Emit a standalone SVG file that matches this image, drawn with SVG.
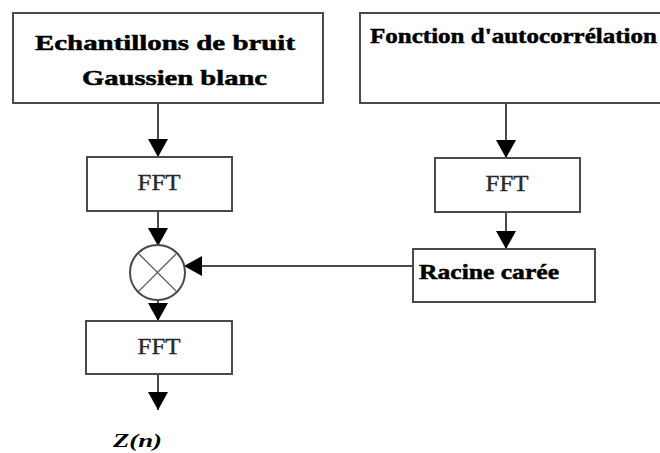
<svg xmlns="http://www.w3.org/2000/svg" width="660" height="453" viewBox="0 0 660 453">
<style>
.box{fill:#fff;stroke:#4a4a4a;stroke-width:2}
.ln{fill:none;stroke:#4a4a4a;stroke-width:2}
.bt{font-family:"Liberation Serif",serif;font-weight:bold;font-size:22px;fill:#000;stroke:#000;stroke-width:0.5}
.ft{font-family:"Liberation Serif",serif;font-size:23px;fill:#2a2a2a;stroke:#2a2a2a;stroke-width:0.4;text-anchor:middle}
</style>
<defs>
<marker id="ah" markerUnits="userSpaceOnUse" markerWidth="20" markerHeight="20" refX="18" refY="10" orient="auto" viewBox="0 0 20 20">
<path d="M0,0 L18,10 L0,20 z" fill="#000"/>
</marker>
</defs>
<rect width="660" height="453" fill="#fff"/>
<g id="connectors">
<line class="ln" x1="158" y1="103" x2="158" y2="157" marker-end="url(#ah)"/>
<line class="ln" x1="158" y1="211" x2="158" y2="246" marker-end="url(#ah)"/>
<line class="ln" x1="158" y1="300" x2="158" y2="321" marker-end="url(#ah)"/>
<line class="ln" x1="158" y1="374" x2="158" y2="410" marker-end="url(#ah)"/>
<line class="ln" x1="506" y1="103" x2="506" y2="158" marker-end="url(#ah)"/>
<line class="ln" x1="506" y1="212" x2="506" y2="249" marker-end="url(#ah)"/>
<line class="ln" x1="413" y1="266" x2="184" y2="266" marker-end="url(#ah)"/>
</g>
<g id="bruit">
<rect class="box" x="13" y="13" width="310" height="90"/>
<text class="bt" x="35" y="50" textLength="260" lengthAdjust="spacingAndGlyphs">Echantillons de bruit</text>
<text class="bt" x="82" y="85" textLength="185" lengthAdjust="spacingAndGlyphs">Gaussien blanc</text>
</g>
<g id="autocorr">
<rect class="box" x="360" y="13" width="310" height="90"/>
<text class="bt" x="370" y="43" textLength="287" lengthAdjust="spacingAndGlyphs">Fonction d'autocorrélation</text>
</g>
<g id="fft1">
<rect class="box" x="87" y="157" width="145" height="54"/>
<text class="ft" x="159" y="190" textLength="43" lengthAdjust="spacingAndGlyphs">FFT</text>
</g>
<g id="fft3">
<rect class="box" x="435" y="158" width="145" height="54"/>
<text class="ft" x="507" y="191" textLength="43" lengthAdjust="spacingAndGlyphs">FFT</text>
</g>
<g id="mult">
<circle cx="157.5" cy="272.5" r="27.5" fill="#fff" stroke="#4a4a4a" stroke-width="2"/>
<line x1="138.1" y1="253.1" x2="176.9" y2="291.9" stroke="#555" stroke-width="1.3"/>
<line x1="176.9" y1="253.1" x2="138.1" y2="291.9" stroke="#555" stroke-width="1.3"/>
</g>
<g id="racine">
<rect class="box" x="413" y="249" width="182" height="53"/>
<text class="bt" x="419" y="279" textLength="140" lengthAdjust="spacingAndGlyphs">Racine carée</text>
</g>
<g id="fft2">
<rect class="box" x="86" y="321" width="146" height="53"/>
<text class="ft" x="159" y="354" textLength="43" lengthAdjust="spacingAndGlyphs">FFT</text>
</g>
<g id="output">
<text x="113" y="447" font-family="Liberation Serif,serif" font-weight="bold" font-style="italic" font-size="19" textLength="49" lengthAdjust="spacingAndGlyphs">Z(n)</text>
</g>
</svg>
